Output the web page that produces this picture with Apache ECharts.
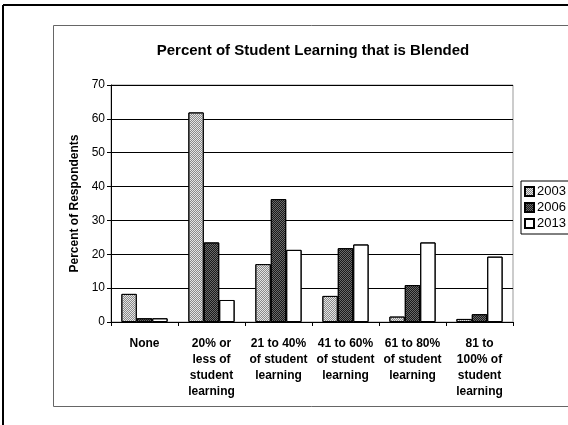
<!DOCTYPE html>
<html><head><meta charset="utf-8">
<script src="https://cdn.jsdelivr.net/npm/echarts@6/dist/echarts.min.js"></script>
<style>html,body{margin:0;padding:0;background:#fff}#c{width:568px;height:425px}</style>
</head><body><div id="c"></div>
<script>
const categories = ["None", "20% or\nless of\nstudent\nlearning", "21 to 40%\nof student\nlearning", "41 to 60%\nof student\nlearning", "61 to 80%\nof student\nlearning", "81 to\n100% of\nstudent\nlearning"];
const s2003 = [8.3, 61.9, 17.1, 7.7, 1.6, 0.9];
const s2006 = [1.1, 23.5, 36.3, 21.8, 10.9, 2.3];
const s2013 = [1.1, 6.5, 21.3, 22.9, 23.5, 19.3];
const seriesNames = ["2003", "2006", "2013"];
const yTicks = [0, 10, 20, 30, 40, 50, 60, 70];

const chart = echarts.init(document.getElementById('c'), null, {renderer: 'canvas'});
const font = "'Liberation Sans', Arial, sans-serif";
const checker = (c) => ({symbol: 'rect', symbolSize: 1, dashArrayX: [[1, 1], [0, 1, 1, 0]], dashArrayY: [1, 0], color: c, rotation: 0});
const barStyle = (color, decal) => {
  const s = {color: color, borderColor: '#000', borderWidth: 1};
  if (decal) s.decal = decal;
  return s;
};
chart.setOption({
  animation: false,
  aria: {enabled: true, decal: {show: true}},
  textStyle: {fontFamily: font},
  title: {
    text: 'Percent of Student Learning that is Blended',
    left: 308, top: 38, textAlign: 'center',
    textStyle: {fontSize: 15, fontWeight: 'bold', color: '#000', fontFamily: font}
  },
  legend: {
    data: seriesNames,
    orient: 'vertical', left: 521, top: 181,
    itemWidth: 9, itemHeight: 9, itemGap: 3,
    icon: 'rect', borderColor: '#000', borderWidth: 1, padding: [4, 6, 4, 3],
    textStyle: {fontSize: 13, color: '#000', fontFamily: font, padding: [0, 0, 0, -2]}
  },
  grid: {left: 111, right: 55, top: 85, bottom: 103, show: true, borderColor: '#999', borderWidth: 1},
  xAxis: {
    type: 'category', data: categories,
    axisLine: {lineStyle: {color: '#000'}},
    axisTick: {show: true, length: 4, lineStyle: {color: '#000'}},
    axisLabel: {interval: 0, margin: 14, fontSize: 12, fontWeight: 'bold', color: '#000', lineHeight: 16, fontFamily: font}
  },
  yAxis: {
    type: 'value', min: yTicks[0], max: yTicks[yTicks.length - 1], interval: 10,
    name: 'Percent of Respondents', nameLocation: 'middle', nameGap: 25,
    nameTextStyle: {fontSize: 12, fontWeight: 'bold', color: '#000', fontFamily: font},
    axisLine: {show: true, lineStyle: {color: '#000'}},
    axisTick: {show: true, length: 4, lineStyle: {color: '#000'}},
    axisLabel: {fontSize: 12, color: '#000', margin: 6, fontFamily: font},
    splitLine: {lineStyle: {color: '#000', width: 1}}
  },
  series: [
    {name: seriesNames[0], type: 'bar', data: s2003, itemStyle: barStyle('#e4e4e4', checker('#8a8a8a'))},
    {name: seriesNames[1], type: 'bar', data: s2006, itemStyle: barStyle('#6a6a6a', checker('#1a1a1a'))},
    {name: seriesNames[2], type: 'bar', data: s2013, barGap: '0%', barCategoryGap: '31%', itemStyle: barStyle('#ffffff', {symbol: 'none', color: 'rgba(0,0,0,0)'})}
  ],
  graphic: [
    {type: 'rect', shape: {x: 53.5, y: 25.5, width: 530, height: 381}, style: {fill: 'none', stroke: '#666', lineWidth: 1}, z: -1},
    {type: 'line', shape: {x1: 3, y1: 5, x2: 3, y2: 425}, style: {stroke: '#000', lineWidth: 2}},
    {type: 'line', shape: {x1: 3, y1: 5, x2: 568, y2: 5}, style: {stroke: '#000', lineWidth: 2}}
  ]
});
</script></body></html>
